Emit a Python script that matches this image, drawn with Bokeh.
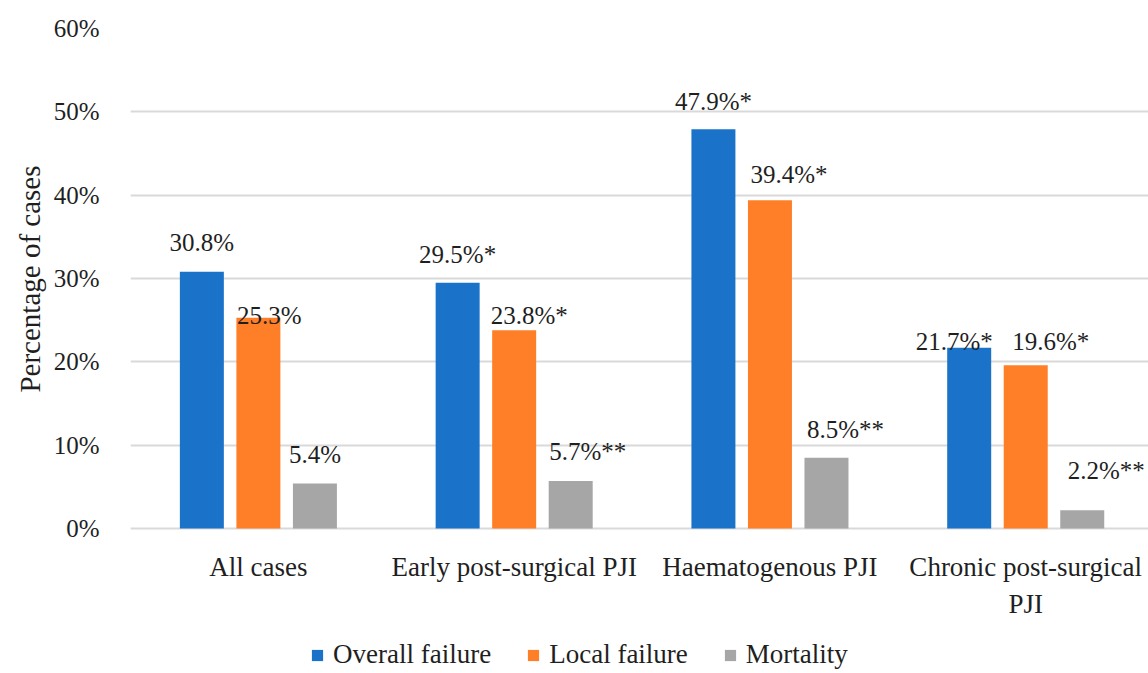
from bokeh.plotting import figure
from bokeh.models import (Range1d, FixedTicker, PrintfTickFormatter, Legend, LegendItem,
                          ColumnDataSource, Title)
from bokeh.transform import dodge
from bokeh.core.properties import value
from bokeh.embed import file_html
from bokeh.resources import INLINE

# ---- data ----
categories = ["All cases", "Early post-surgical PJI", "Haematogenous PJI", "Chronic post-surgical\nPJI"]
series_names = ["Overall failure", "Local failure", "Mortality"]
overall = [30.8, 29.5, 47.9, 21.7]
local = [25.3, 23.8, 39.4, 19.6]
mortality = [5.4, 5.7, 8.5, 2.2]
overall_marks = ["", "*", "*", "*"]
local_marks = ["", "*", "*", "*"]
mortality_marks = ["", "**", "**", "**"]
y_ticks = [0, 10, 20, 30, 40, 50, 60]

# ---- style ----
colors = ["#1A73C9", "#FE7F27", "#A6A6A6"]
FONT = "Liberation Serif"
TEXT = "#1f1f1f"
# label nudges in screen px (dx right, dy up from bar top), as placed in the original
label_dx = [[0, 0, 0, -15], [11, 15, 19, 25], [0, 17, 19, 24]]
label_dy = [[29, 28, 28, 6], [2, 15, 26, 24], [29, 30, 28, 40]]

centers = [i + 0.5 for i in range(len(categories))]
offsets = [-0.221, 0.0, 0.221]
bar_w = 0.172

H = 670
TOP = 28
ZERO_Y = 528          # pixel row of the 0% line
px_per_unit = (ZERO_Y - TOP) / 60.0
y_start = -(H - ZERO_Y) / px_per_unit   # frame reaches down to hold category labels + legend

p = figure(width=1148, height=H, output_backend="svg", toolbar_location=None,
           x_range=Range1d(0, 3.98), y_range=Range1d(y_start, 60),
           min_border_left=130, min_border_right=0, min_border_top=TOP, min_border_bottom=0)
p.outline_line_color = None
p.background_fill_color = "white"
p.border_fill_color = "white"

items = []
for k, (vals, marks) in enumerate([(overall, overall_marks), (local, local_marks), (mortality, mortality_marks)]):
    src = ColumnDataSource(dict(
        x=centers, top=vals,
        label=[f"{v:.1f}%{m}" for v, m in zip(vals, marks)],
        dx=label_dx[k], dy=[-d for d in label_dy[k]],
    ))
    r = p.vbar(x=dodge("x", offsets[k], range=p.x_range), top="top", width=bar_w, bottom=0,
               source=src, fill_color=colors[k], line_color=None)
    items.append(LegendItem(label=series_names[k], renderers=[r]))
    p.text(x=dodge("x", offsets[k], range=p.x_range), y="top", text="label", source=src,
           x_offset="dx", y_offset="dy", text_align="center", text_baseline="middle",
           text_font=value(FONT), text_font_size="25px", text_color=TEXT)

# category labels under the 0% line
cat_src = ColumnDataSource(dict(x=centers, y=[0] * len(centers), text=categories))
p.text(x="x", y="y", text="text", source=cat_src, y_offset=23,
       text_align="center", text_baseline="top", text_line_height=1.25,
       text_font=value(FONT), text_font_size="27px", text_color=TEXT)

# axes
p.xaxis.visible = False
p.yaxis.ticker = FixedTicker(ticks=y_ticks)
p.yaxis.formatter = PrintfTickFormatter(format="%d%%")
p.yaxis.axis_line_color = None
p.yaxis.major_tick_line_color = None
p.yaxis.minor_tick_line_color = None
p.yaxis.major_label_text_font = FONT
p.yaxis.major_label_text_font_size = "25px"
p.yaxis.major_label_text_color = TEXT
p.yaxis.major_label_standoff = 25

ytitle = Title(text="Percentage of cases", align="right", offset=137,
               text_font=FONT, text_font_size="29px", text_font_style="normal",
               text_color=TEXT, standoff=10)
p.add_layout(ytitle, "left")

p.xgrid.grid_line_color = None
p.ygrid.grid_line_color = "#D9D9D9"
p.ygrid.grid_line_width = 2

legend = Legend(items=items, orientation="horizontal", location=(180, 0),
                label_text_font=FONT, label_text_font_size="27px", label_text_color=TEXT,
                glyph_width=14, glyph_height=14, label_standoff=9, spacing=35,
                label_height=20, padding=0, margin=0, border_line_color=None,
                background_fill_alpha=0)
p.add_layout(legend)

open("out.html", "w").write(file_html(p, INLINE))
